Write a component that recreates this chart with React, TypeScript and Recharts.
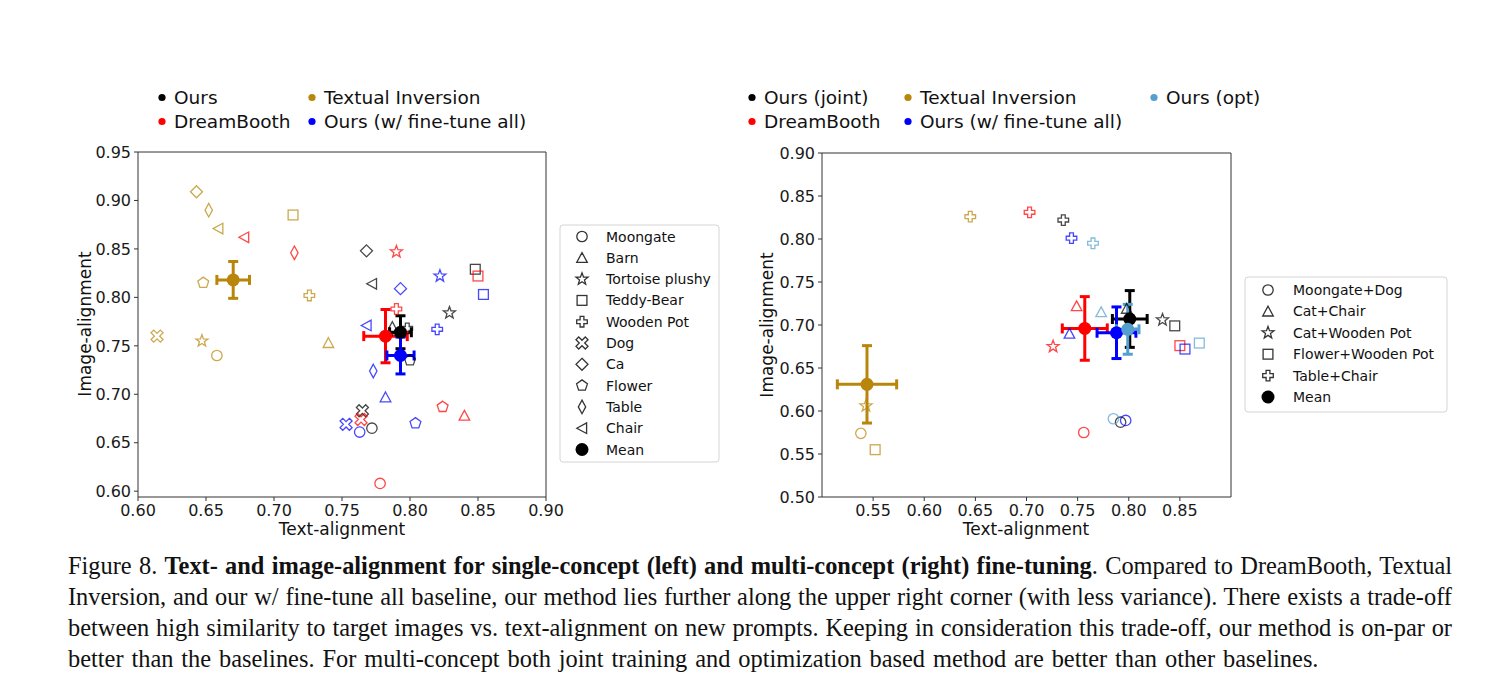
import React from 'react'
import { ScatterChart, Scatter, XAxis, YAxis, ErrorBar, ReferenceArea } from 'recharts'

const FONT = '"DejaVu Sans", Verdana, sans-serif'
const OURS = '#000000'
const DREAM = '#ff0000'
const TI = '#b8860b'
const ALL = '#0000ff'
const OPT = '#559fcf'

// ---- single-concept (left plot) ----
const singleConcepts = ['Moongate', 'Barn', 'Tortoise plushy', 'Teddy-Bear', 'Wooden Pot', 'Dog', 'Ca', 'Flower', 'Table', 'Chair']
const singleKinds = ['circle', 'triangle', 'star', 'square', 'plus', 'cross', 'diamond', 'pentagon', 'thinDiamond', 'triangleLeft']

const singleOursText = [0.772, null, 0.829, 0.848, 0.798, 0.765, 0.768, 0.8, 0.787, 0.772]
const singleOursImage = [0.665, null, 0.784, 0.829, 0.768, 0.683, 0.848, 0.735, 0.768, 0.814]
const singleDreamText = [0.778, 0.84, 0.79, 0.85, 0.79, 0.764, null, 0.824, 0.715, 0.678]
const singleDreamImage = [0.608, 0.678, 0.847, 0.822, 0.788, 0.674, null, 0.687, 0.846, 0.862]
const singleTiText = [0.658, 0.74, 0.647, 0.714, 0.726, 0.614, 0.643, 0.648, 0.652, 0.659]
const singleTiImage = [0.74, 0.753, 0.755, 0.885, 0.802, 0.76, 0.909, 0.815, 0.89, 0.871]
const singleAllText = [0.763, 0.782, 0.822, 0.854, 0.82, 0.753, 0.793, 0.804, 0.773, 0.768]
const singleAllImage = [0.661, 0.697, 0.822, 0.803, 0.767, 0.669, 0.809, 0.67, 0.724, 0.771]

// mean: [text, image, text err, image err]
const singleOursMean = [0.793, 0.764, 0.008, 0.017]
const singleDreamMean = [0.782, 0.76, 0.016, 0.0275]
const singleTiMean = [0.67, 0.818, 0.012, 0.019]
const singleAllMean = [0.793, 0.74, 0.01, 0.019]

const singleXTicks = [0.6, 0.65, 0.7, 0.75, 0.8, 0.85, 0.9]
const singleYTicks = [0.6, 0.65, 0.7, 0.75, 0.8, 0.85, 0.9, 0.95]

// ---- multi-concept (right plot) ----
const multiConcepts = ['Moongate+Dog', 'Cat+Chair', 'Cat+Wooden Pot', 'Flower+Wooden Pot', 'Table+Chair']
const multiKinds = ['circle', 'triangle', 'star', 'square', 'plus']

const multiJointText = [0.792, 0.798, 0.833, 0.845, 0.736]
const multiJointImage = [0.587, 0.719, 0.706, 0.699, 0.822]
const multiDreamText = [0.756, 0.749, 0.726, 0.85, 0.703]
const multiDreamImage = [0.575, 0.722, 0.675, 0.676, 0.831]
const multiTiText = [0.538, null, 0.543, 0.552, 0.645]
const multiTiImage = [0.574, null, 0.606, 0.555, 0.826]
const multiAllText = [0.797, 0.742, null, 0.855, 0.744]
const multiAllImage = [0.589, 0.69, null, 0.672, 0.801]
const multiOptText = [0.785, 0.773, null, 0.869, 0.765]
const multiOptImage = [0.591, 0.715, null, 0.679, 0.795]

const multiJointMean = [0.801, 0.707, 0.017, 0.033]
const multiDreamMean = [0.757, 0.696, 0.022, 0.037]
const multiTiMean = [0.544, 0.631, 0.029, 0.045]
const multiAllMean = [0.788, 0.691, 0.019, 0.03]
const multiOptMean = [0.799, 0.695, 0.011, 0.029]

const multiXTicks = [0.55, 0.6, 0.65, 0.7, 0.75, 0.8, 0.85]
const multiYTicks = [0.5, 0.55, 0.6, 0.65, 0.7, 0.75, 0.8, 0.85, 0.9]

interface Method {
  name: string
  color: string
  text: (number | null)[]
  image: (number | null)[]
  mean: number[]
}

const singleMethods: Method[] = [
  { name: 'Ours', color: OURS, text: singleOursText, image: singleOursImage, mean: singleOursMean },
  { name: 'DreamBooth', color: DREAM, text: singleDreamText, image: singleDreamImage, mean: singleDreamMean },
  { name: 'Textual Inversion', color: TI, text: singleTiText, image: singleTiImage, mean: singleTiMean },
  { name: 'Ours (w/ fine-tune all)', color: ALL, text: singleAllText, image: singleAllImage, mean: singleAllMean },
]

const multiMethods: Method[] = [
  { name: 'Ours (joint)', color: OURS, text: multiJointText, image: multiJointImage, mean: multiJointMean },
  { name: 'DreamBooth', color: DREAM, text: multiDreamText, image: multiDreamImage, mean: multiDreamMean },
  { name: 'Textual Inversion', color: TI, text: multiTiText, image: multiTiImage, mean: multiTiMean },
  { name: 'Ours (w/ fine-tune all)', color: ALL, text: multiAllText, image: multiAllImage, mean: multiAllMean },
  { name: 'Ours (opt)', color: OPT, text: multiOptText, image: multiOptImage, mean: multiOptMean },
]

// ---- marker geometry ----
type P = [number, number]

const regular = (n: number, r: number): P[] =>
  Array.from({ length: n }, (_, i) => {
    const a = -Math.PI / 2 + (i * 2 * Math.PI) / n
    return [r * Math.cos(a), r * Math.sin(a)] as P
  })

const starPts = (R: number, r: number): P[] =>
  Array.from({ length: 10 }, (_, i) => {
    const a = -Math.PI / 2 + (i * Math.PI) / 5
    const rr = i % 2 === 0 ? R : r
    return [rr * Math.cos(a), rr * Math.sin(a)] as P
  })

const plusPts = (e: number, w: number): P[] => [
  [-w, -e], [w, -e], [w, -w], [e, -w], [e, w], [w, w],
  [w, e], [-w, e], [-w, w], [-e, w], [-e, -w], [-w, -w],
]

const rot45 = (pts: P[]): P[] => pts.map(([x, y]) => [(x - y) * Math.SQRT1_2, (x + y) * Math.SQRT1_2] as P)

const SHAPES: Record<string, P[]> = {
  triangle: [[0, -5.2], [5.3, 4.6], [-5.3, 4.6]],
  triangleLeft: [[-5.2, 0], [4.6, -5.3], [4.6, 5.3]],
  star: starPts(6.3, 2.6),
  plus: plusPts(5.3, 1.9),
  cross: rot45(plusPts(6.6, 1.9)),
  diamond: [[0, -6], [6, 0], [0, 6], [-6, 0]],
  pentagon: regular(5, 5.7),
  thinDiamond: [[0, -6.8], [3.7, 0], [0, 6.8], [-3.7, 0]],
}

function Marker({ kind, cx, cy, color, opacity = 0.72 }: { kind: string; cx: number; cy: number; color: string; opacity?: number }) {
  const common = { fill: 'none', stroke: color, strokeWidth: 1.3, strokeOpacity: opacity }
  if (kind === 'circle') return <circle cx={cx} cy={cy} r={5.2} {...common} />
  if (kind === 'square') return <rect x={cx - 4.9} y={cy - 4.9} width={9.8} height={9.8} {...common} />
  const pts = SHAPES[kind].map(([dx, dy]) => `${cx + dx},${cy + dy}`).join(' ')
  return <polygon points={pts} {...common} />
}

function toPoints(m: Method, kinds: string[]) {
  const out: { x: number; y: number; kind: string }[] = []
  m.text.forEach((t, i) => {
    const im = m.image[i]
    if (t != null && im != null) out.push({ x: t, y: im, kind: kinds[i] })
  })
  return out
}

const tickStyle = { fontSize: 16, fill: '#1a1a1a', fontFamily: FONT }

interface PlotProps {
  x0: number
  plotLeft: number
  plotTop: number
  plotW: number
  plotH: number
  xDomain: [number, number]
  yDomain: [number, number]
  xTicks: number[]
  yTicks: number[]
  kinds: string[]
  methods: Method[]
}

function AlignmentPlot({ x0, plotLeft, plotTop, plotW, plotH, xDomain, yDomain, xTicks, yTicks, kinds, methods }: PlotProps) {
  const yAxisW = 60
  const xAxisH = 30
  const right = 30
  const width = plotLeft - x0 + plotW + right
  const height = plotTop + plotH + xAxisH + 4
  return (
    <div style={{ position: 'absolute', left: x0, top: 0 }}>
      <ScatterChart
        width={width}
        height={height}
        margin={{ top: plotTop, right, bottom: 4, left: plotLeft - x0 - yAxisW }}
      >
        <XAxis
          type="number"
          dataKey="x"
          domain={xDomain}
          ticks={xTicks}
          interval={0}
          allowDataOverflow
          height={xAxisH}
          axisLine={false}
          tickLine={{ stroke: '#333' }}
          tickSize={4}
          tickMargin={4}
          tick={tickStyle}
          tickFormatter={(v: number) => v.toFixed(2)}
        />
        <YAxis
          type="number"
          dataKey="y"
          domain={yDomain}
          ticks={yTicks}
          interval={0}
          allowDataOverflow
          width={yAxisW}
          axisLine={false}
          tickLine={{ stroke: '#333' }}
          tickSize={4}
          tickMargin={3}
          tick={tickStyle}
          tickFormatter={(v: number) => v.toFixed(2)}
        />
        <ReferenceArea
          x1={xDomain[0]}
          x2={xDomain[1]}
          y1={yDomain[0]}
          y2={yDomain[1]}
          fill="none"
          stroke="#333"
          strokeWidth={1}
          ifOverflow="visible"
        />
        {methods.map((m) => (
          <Scatter
            key={m.name}
            name={m.name}
            data={toPoints(m, kinds)}
            isAnimationActive={false}
            shape={(p: any) => <Marker kind={p.payload.kind} cx={p.cx} cy={p.cy} color={m.color} />}
          />
        ))}
        {methods.map((m) => (
          <Scatter
            key={m.name + '-mean'}
            data={[{ x: m.mean[0], y: m.mean[1], ex: m.mean[2], ey: m.mean[3] }]}
            isAnimationActive={false}
            fill={m.color}
            shape={(p: any) => <circle cx={p.cx} cy={p.cy} r={6.5} fill={m.color} />}
          >
            <ErrorBar dataKey="ex" direction="x" width={5} strokeWidth={3} stroke={m.color} isAnimationActive={false} />
            <ErrorBar dataKey="ey" direction="y" width={5} strokeWidth={3} stroke={m.color} isAnimationActive={false} />
          </Scatter>
        ))}
      </ScatterChart>
    </div>
  )
}

function TopLegend({ items }: { items: { label: string; color: string; x: number; y: number }[] }) {
  return (
    <g>
      {items.map((it) => (
        <g key={it.label + it.x}>
          <circle cx={it.x} cy={it.y} r={3.6} fill={it.color} />
          <text x={it.x + 12} y={it.y + 6.6} fontSize={18.5} fontFamily={FONT} fill="#111">
            {it.label}
          </text>
        </g>
      ))}
    </g>
  )
}

function MarkerLegend({ box, rowY, step, markerX, textX, concepts, kinds }: {
  box: [number, number, number, number]
  rowY: number
  step: number
  markerX: number
  textX: number
  concepts: string[]
  kinds: string[]
}) {
  return (
    <g>
      <rect x={box[0]} y={box[1]} width={box[2]} height={box[3]} rx={3} fill="#fff" stroke="#d4d4d4" strokeWidth={1} />
      {concepts.map((c, i) => (
        <g key={c}>
          <Marker kind={kinds[i]} cx={markerX} cy={rowY + i * step} color="#111" opacity={0.85} />
          <text x={textX} y={rowY + i * step + 5} fontSize={14} fontFamily={FONT} fill="#111">
            {c}
          </text>
        </g>
      ))}
      <circle cx={markerX} cy={rowY + concepts.length * step} r={6.5} fill="#000" />
      <text x={textX} y={rowY + concepts.length * step + 5} fontSize={14} fontFamily={FONT} fill="#111">
        Mean
      </text>
    </g>
  )
}

const captionLines = [
  'Inversion, and our w/ fine-tune all baseline, our method lies further along the upper right corner (with less variance). There exists a trade-off',
  'between high similarity to target images vs. text-alignment on new prompts. Keeping in consideration this trade-off, our method is on-par or',
]

export default function App() {
  const lineStyle: React.CSSProperties = {
    textAlign: 'justify',
    textAlignLast: 'justify',
    whiteSpace: 'nowrap',
    height: 31,
  }
  return (
    <div style={{ position: 'absolute', left: 0, top: 0, width: 1512, height: 677, background: '#fff', overflow: 'hidden' }}>
      <AlignmentPlot
        x0={0}
        plotLeft={138}
        plotTop={152}
        plotW={408}
        plotH={345}
        xDomain={[0.6, 0.9]}
        yDomain={[0.594, 0.95]}
        xTicks={singleXTicks}
        yTicks={singleYTicks}
        kinds={singleKinds}
        methods={singleMethods}
      />
      <AlignmentPlot
        x0={700}
        plotLeft={822}
        plotTop={153}
        plotW={409}
        plotH={344}
        xDomain={[0.5, 0.9]}
        yDomain={[0.5, 0.9]}
        xTicks={multiXTicks}
        yTicks={multiYTicks}
        kinds={multiKinds}
        methods={multiMethods}
      />
      <svg width={1512} height={677} style={{ position: 'absolute', left: 0, top: 0, pointerEvents: 'none' }}>
        <TopLegend
          items={[
            { label: 'Ours', color: OURS, x: 162, y: 97.5 },
            { label: 'DreamBooth', color: DREAM, x: 162, y: 121.5 },
            { label: 'Textual Inversion', color: TI, x: 312, y: 97.5 },
            { label: 'Ours (w/ fine-tune all)', color: ALL, x: 312, y: 121.5 },
          ]}
        />
        <TopLegend
          items={[
            { label: 'Ours (joint)', color: OURS, x: 752, y: 97.5 },
            { label: 'DreamBooth', color: DREAM, x: 752, y: 121.5 },
            { label: 'Textual Inversion', color: TI, x: 908, y: 97.5 },
            { label: 'Ours (w/ fine-tune all)', color: ALL, x: 908, y: 121.5 },
            { label: 'Ours (opt)', color: OPT, x: 1154, y: 97.5 },
          ]}
        />
        <text x={342} y={535} textAnchor="middle" fontSize={17} fontFamily={FONT} fill="#111">
          Text-alignment
        </text>
        <text x={1026} y={535} textAnchor="middle" fontSize={17} fontFamily={FONT} fill="#111">
          Text-alignment
        </text>
        <text transform="translate(91,324) rotate(-90)" textAnchor="middle" fontSize={17} fontFamily={FONT} fill="#111">
          Image-alignment
        </text>
        <text transform="translate(773,325) rotate(-90)" textAnchor="middle" fontSize={17} fontFamily={FONT} fill="#111">
          Image-alignment
        </text>
        <MarkerLegend
          box={[560, 225, 159, 237]}
          rowY={236.5}
          step={21.3}
          markerX={582}
          textX={606}
          concepts={singleConcepts}
          kinds={singleKinds}
        />
        <MarkerLegend
          box={[1245, 277, 202, 135]}
          rowY={290}
          step={21.4}
          markerX={1268}
          textX={1293}
          concepts={multiConcepts}
          kinds={multiKinds}
        />
      </svg>
      <div
        style={{
          position: 'absolute',
          left: 68,
          top: 550,
          width: 1384,
          fontFamily: '"Liberation Serif", "Times New Roman", serif',
          fontSize: 24.4,
          lineHeight: '31px',
          color: '#111',
        }}
      >
        <div style={lineStyle}>
          Figure 8. <b>Text- and image-alignment for single-concept (left) and multi-concept (right) fine-tuning</b>. Compared to DreamBooth, Textual
        </div>
        {captionLines.map((l) => (
          <div key={l} style={lineStyle}>
            {l}
          </div>
        ))}
        <div style={{ whiteSpace: 'nowrap', height: 31, wordSpacing: 1.8 }}>
          better than the baselines. For multi-concept both joint training and optimization based method are better than other baselines.
        </div>
      </div>
    </div>
  )
}
